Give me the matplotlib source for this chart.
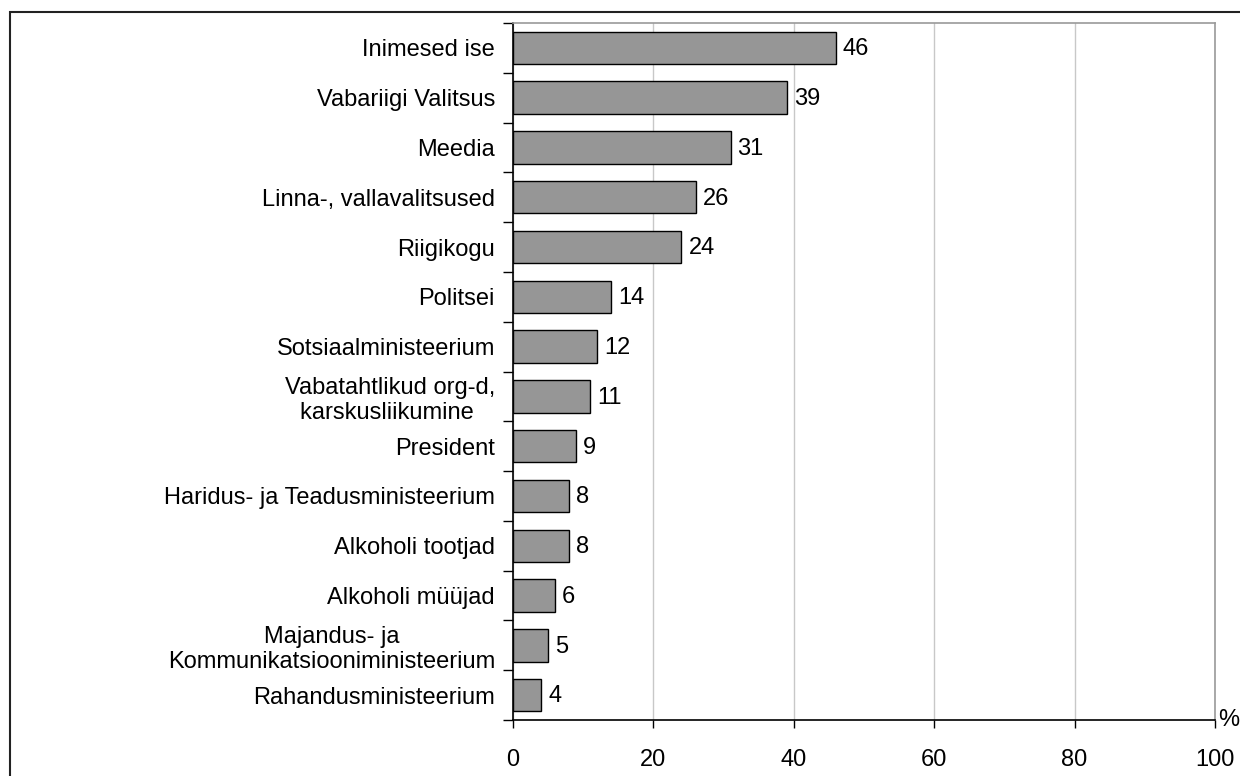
import matplotlib
matplotlib.use("Agg")
import matplotlib.pyplot as plt
from matplotlib.patches import Rectangle

plt.rcParams["font.family"] = ["Liberation Sans", "DejaVu Sans"]

CATEGORIES = [
    "Inimesed ise",
    "Vabariigi Valitsus",
    "Meedia",
    "Linna-, vallavalitsused",
    "Riigikogu",
    "Politsei",
    "Sotsiaalministeerium",
    "Vabatahtlikud org-d,\nkarskusliikumine ",
    "President",
    "Haridus- ja Teadusministeerium",
    "Alkoholi tootjad",
    "Alkoholi müüjad",
    "Majandus- ja\nKommunikatsiooniministeerium",
    "Rahandusministeerium",
]
VALUES = [46, 39, 31, 26, 24, 14, 12, 11, 9, 8, 8, 6, 5, 4]
X_TICKS = [0, 20, 40, 60, 80, 100]

FS = 17
W, H = 1240, 776
fig = plt.figure(figsize=(W / 100, H / 100), dpi=100)
ax = fig.add_axes([513 / W, 1 - 720 / H, (1215 - 513) / W, (720 - 23) / H])

# outer frame of the original chart object (runs off right and bottom)
fig.patches.append(Rectangle((10 / W, -0.1), 1.2, 1 - 12 / H + 0.1,
                             transform=fig.transFigure, fill=False,
                             edgecolor="#222222", linewidth=1.5))

n = len(CATEGORIES)
ypos = list(range(n))
ax.barh(ypos, VALUES, height=0.65, color="#969696", edgecolor="black",
        linewidth=1.0, zorder=3)

for y, v in zip(ypos, VALUES):
    ax.annotate(str(v), (v, y), xytext=(5, -1), textcoords="offset points",
                ha="left", va="center", fontsize=FS, zorder=4)

ax.set_xlim(0, 100)
ax.set_ylim(n - 0.5, -0.5)
ax.set_xticks(X_TICKS)
ax.set_xticklabels([str(t) for t in X_TICKS], fontsize=FS)
ax.tick_params(axis="x", length=6, width=1, pad=15)

ax.set_yticks([i - 0.5 for i in range(n + 1)], minor=False)
ax.set_yticklabels([])
ax.tick_params(axis="y", which="major", length=7, width=1)
ax.set_yticks(ypos, minor=True)
ax.set_yticklabels(CATEGORIES, minor=True, fontsize=FS, ha="right",
                   multialignment="center")
ax.tick_params(axis="y", which="minor", length=0, pad=13)

ax.grid(axis="x", color="#c8c8c8", linewidth=1, zorder=0)
for side in ("top", "right"):
    ax.spines[side].set_color("#9a9a9a")
    ax.spines[side].set_linewidth(1.2)
for side in ("left", "bottom"):
    ax.spines[side].set_color("black")
    ax.spines[side].set_linewidth(1.2)

ax.text(1.004, 0.0, "%", transform=ax.transAxes, ha="left", va="center",
        fontsize=FS)

fig.savefig("out.png", dpi=100)
